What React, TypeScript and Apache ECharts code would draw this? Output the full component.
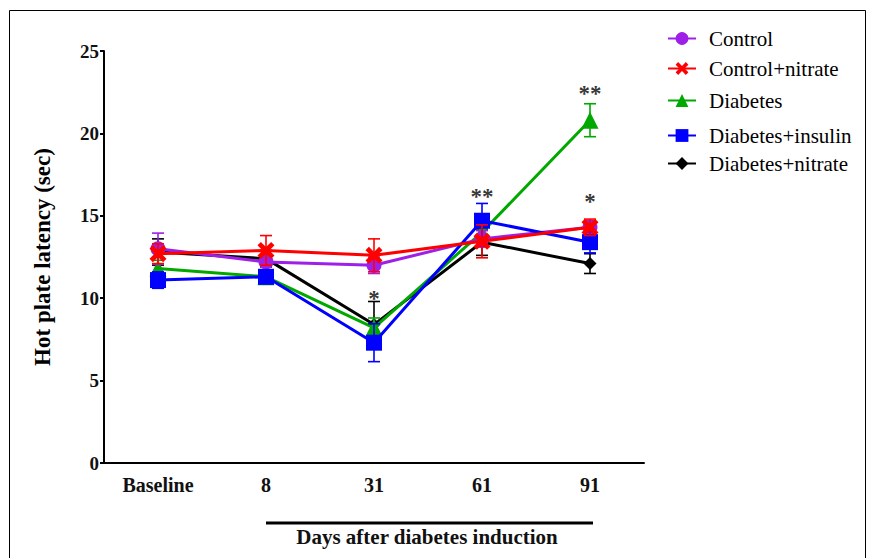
import React, { useEffect, useRef } from "react";
import * as echarts from "echarts";

const categories = ["Baseline", "8", "31", "61", "91"];
const yTicks = { min: 0, max: 25, interval: 5 };

const controlMean = [13.0, 12.2, 12.0, 13.6, 14.3];
const controlErr = [0.95, 0.5, 0.5, 0.5, 0.4];
const controlNitrateMean = [12.7, 12.9, 12.6, 13.45, 14.3];
const controlNitrateErr = [0.6, 0.9, 1.0, 1.0, 0.5];
const diabetesMean = [11.8, 11.3, 8.2, 14.0, 20.8];
const diabetesErr = [0.5, 0.4, 0.6, 0.5, 1.0];
const diabetesInsulinMean = [11.1, 11.3, 7.3, 14.7, 13.4];
const diabetesInsulinErr = [0.5, 0.4, 1.15, 1.05, 0.65];
const diabetesNitrateMean = [12.8, 12.4, 8.4, 13.4, 12.1];
const diabetesNitrateErr = [0.8, 0.5, 1.4, 0.8, 0.6];

const annotations: [string, number, string][] = [
  ["31", 10.3, "*"],
  ["61", 16.5, "**"],
  ["91", 22.7, "**"],
  ["91", 16.2, "*"],
];

const FONT = "'Liberation Serif', 'Times New Roman', serif";

const xSymbol =
  "path://M0,2 L2,0 L5,3 L8,0 L10,2 L7,5 L10,8 L8,10 L5,7 L2,10 L0,8 L3,5 Z";

type SeriesDef = {
  name: string;
  mean: number[];
  err: number[];
  color: string;
  symbol: string;
  size: number;
};

const seriesDefs: SeriesDef[] = [
  { name: "Diabetes+nitrate", mean: diabetesNitrateMean, err: diabetesNitrateErr, color: "#000000", symbol: "diamond", size: 13 },
  { name: "Diabetes", mean: diabetesMean, err: diabetesErr, color: "#00A800", symbol: "triangle", size: 17 },
  { name: "Control", mean: controlMean, err: controlErr, color: "#9E1FE8", symbol: "circle", size: 15 },
  { name: "Diabetes+insulin", mean: diabetesInsulinMean, err: diabetesInsulinErr, color: "#0000FF", symbol: "rect", size: 16 },
  { name: "Control+nitrate", mean: controlNitrateMean, err: controlNitrateErr, color: "#FF0000", symbol: xSymbol, size: 17 },
];

const legendOrder = ["Control", "Control+nitrate", "Diabetes", "Diabetes+insulin", "Diabetes+nitrate"];
const legendRowY = [38, 68, 100, 135, 163];

export default function App() {
  const ref = useRef<HTMLDivElement>(null);
  useEffect(() => {
    if (!ref.current) return;
    const chart = echarts.init(ref.current, undefined, { renderer: "svg" });

    const series: any[] = [];
    seriesDefs.forEach((s, si) => {
      series.push({
        type: "custom",
        name: s.name + " err",
        z: 2 + si * 2,
        silent: true,
        renderItem: (params: any, api: any) => {
          const idx = api.value(0);
          const lo = api.coord([idx, api.value(1)]);
          const hi = api.coord([idx, api.value(2)]);
          const w = 6;
          const style = { stroke: s.color, lineWidth: 1.6 };
          return {
            type: "group",
            children: [
              { type: "line", shape: { x1: lo[0], y1: lo[1], x2: hi[0], y2: hi[1] }, style },
              { type: "line", shape: { x1: hi[0] - w, y1: hi[1], x2: hi[0] + w, y2: hi[1] }, style },
              { type: "line", shape: { x1: lo[0] - w, y1: lo[1], x2: lo[0] + w, y2: lo[1] }, style },
            ],
          };
        },
        data: s.mean.map((m, i) => [i, m - s.err[i], m + s.err[i]]),
      });
      series.push({
        type: "line",
        name: s.name,
        z: 3 + si * 2,
        data: s.mean,
        symbol: s.symbol,
        symbolSize: s.size,
        showAllSymbol: true,
        lineStyle: { color: s.color, width: 3 },
        itemStyle: { color: s.color, borderWidth: 0 },
      });
    });

    series.push({
      type: "scatter",
      name: "sig",
      z: 20,
      symbolSize: 0,
      silent: true,
      data: annotations.map((a) => [a[0], a[1], a[2]]),
      label: {
        show: true,
        position: "inside",
        formatter: (p: any) => p.data[2],
        color: "#000",
        fontFamily: FONT,
        fontWeight: "bold",
        fontSize: 23,
        offset: [0, 5],
      },
    });

    const legendText = {
      fontFamily: FONT,
      fontSize: 21,
      color: "#000",
      padding: [0, 0, 0, 8],
    };
    const legends = legendOrder.map((name, i) => ({
      data: [name],
      left: 667,
      top: legendRowY[i] - 10,
      padding: 0,
      itemWidth: 28,
      itemHeight: 16,
      selectedMode: false,
      textStyle: legendText,
      itemGap: 0,
    }));

    chart.setOption({
      animation: false,
      backgroundColor: "#fff",
      textStyle: { fontFamily: FONT },
      legend: legends,
      grid: { left: 104, right: 225, top: 51, bottom: 95, containLabel: false },
      xAxis: {
        type: "category",
        data: categories,
        boundaryGap: true,
        axisLine: { lineStyle: { color: "#000", width: 2 } },
        axisTick: { alignWithLabel: true, length: 5, lineStyle: { color: "#000", width: 2 } },
        axisLabel: {
          fontFamily: FONT,
          fontWeight: "bold",
          fontSize: 20,
          color: "#111",
          margin: 12,
        },
        splitLine: { show: false },
      },
      yAxis: {
        type: "value",
        min: yTicks.min,
        max: yTicks.max,
        interval: yTicks.interval,
        name: "Hot plate latency (sec)",
        nameLocation: "middle",
        nameGap: 50,
        nameTextStyle: { fontFamily: FONT, fontWeight: "bold", fontSize: 23, color: "#000" },
        axisLine: { show: true, lineStyle: { color: "#000", width: 2 } },
        axisTick: { show: true, length: 4, lineStyle: { color: "#000", width: 2 } },
        axisLabel: { fontFamily: FONT, fontWeight: "bold", fontSize: 19, color: "#111", margin: 5 },
        splitLine: { show: false },
      },
      graphic: [
        {
          type: "rect",
          shape: { x: 9.5, y: 10.5, width: 856, height: 580 },
          style: { fill: "none", stroke: "#000", lineWidth: 1 },
          silent: true,
        },
        {
          type: "line",
          shape: { x1: 266, y1: 523, x2: 593, y2: 523 },
          style: { stroke: "#000", lineWidth: 3 },
        },
        {
          type: "text",
          x: 427,
          y: 537,
          style: {
            text: "Days after diabetes induction",
            fontFamily: FONT,
            fontWeight: "bold",
            fontSize: 21,
            fill: "#111",
            align: "center",
            verticalAlign: "middle",
          },
        },
      ],
      series,
    });
    return () => chart.dispose();
  }, []);
  return (
    <div
      ref={ref}
      style={{ position: "fixed", left: 0, top: 0, width: 869, height: 558 }}
    />
  );
}
